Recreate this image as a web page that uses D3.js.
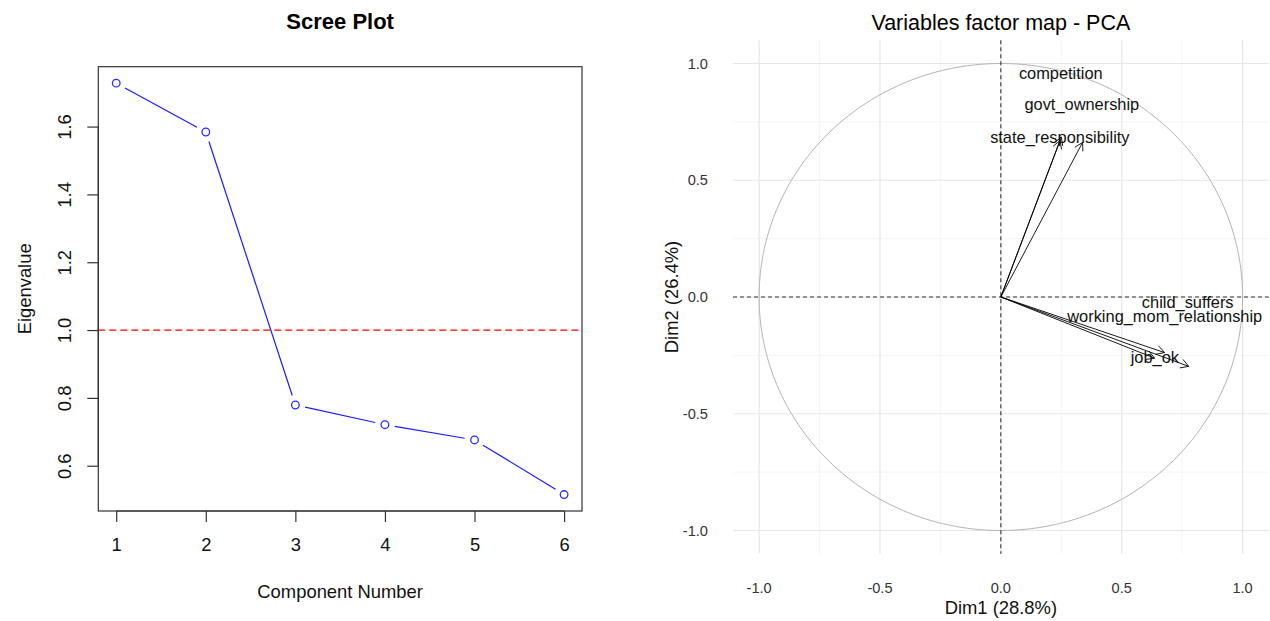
<!DOCTYPE html>
<html>
<head>
<meta charset="utf-8">
<script src="https://cdn.jsdelivr.net/npm/d3@7/dist/d3.min.js"></script>
<style>
  html, body { margin: 0; padding: 0; background: #fff; }
  svg { display: block; font-family: "Liberation Sans", Arial, sans-serif; }
</style>
</head>
<body>
<svg id="chart" width="1270" height="621"></svg>
<script>
// ---------- Scree plot data ----------
const components = [1, 2, 3, 4, 5, 6];
const eigenvalues = [1.728, 1.584, 0.779, 0.721, 0.676, 0.515];
const screeYTicks = [0.6, 0.8, 1.0, 1.2, 1.4, 1.6];
const screeXTicks = [1, 2, 3, 4, 5, 6];
const kaiserLine = 1.0;

// ---------- PCA variable map data ----------
const variables = ["competition", "govt_ownership", "state_responsibility",
                   "child_suffers", "working_mom_relationship", "job_ok"];
const dim1 = [0.250, 0.338, 0.245, 0.677, 0.777, 0.636];
const dim2 = [0.685, 0.662, 0.670, -0.238, -0.297, -0.262];
// repelled label positions (data units)
const labelDim1 = [0.248, 0.335, 0.244, 0.773, 0.678, 0.637];
const labelDim2 = [0.959, 0.827, 0.685, -0.021, -0.081, -0.257];
const pcaTicks = [-1.0, -0.5, 0.0, 0.5, 1.0];
const pcaMinorTicks = [-0.75, -0.25, 0.25, 0.75];

const svg = d3.select("#chart");

// =============== LEFT: Scree Plot ===============
(function () {
  const left = 98.3, right = 582, top = 66.7, bottom = 511;
  const xr = [d3.min(components), d3.max(components)];
  const xpad = (xr[1] - xr[0]) * 0.04;
  const x = d3.scaleLinear().domain([xr[0] - xpad, xr[1] + xpad]).range([left, right]);
  const yr = d3.extent(eigenvalues);
  const ypad = (yr[1] - yr[0]) * 0.04;
  const y = d3.scaleLinear().domain([yr[0] - ypad, yr[1] + ypad]).range([bottom, top]);

  const g = svg.append("g");

  // red dashed line
  g.append("line")
    .attr("x1", left).attr("x2", right)
    .attr("y1", y(kaiserLine)).attr("y2", y(kaiserLine))
    .attr("stroke", "#ff0000").attr("stroke-width", 1.2)
    .attr("stroke-dasharray", "7,4");

  // line segments with gaps (type = "b")
  const gap = 10;
  for (let i = 0; i < components.length - 1; i++) {
    const x1 = x(components[i]), y1 = y(eigenvalues[i]);
    const x2 = x(components[i + 1]), y2 = y(eigenvalues[i + 1]);
    const len = Math.hypot(x2 - x1, y2 - y1);
    if (len <= 2 * gap) continue;
    const ux = (x2 - x1) / len, uy = (y2 - y1) / len;
    g.append("line")
      .attr("x1", x1 + ux * gap).attr("y1", y1 + uy * gap)
      .attr("x2", x2 - ux * gap).attr("y2", y2 - uy * gap)
      .attr("stroke", "#1a1aff").attr("stroke-width", 1.2);
  }
  // points
  g.selectAll("circle.pt").data(components).enter().append("circle")
    .attr("class", "pt")
    .attr("cx", (d) => x(d))
    .attr("cy", (d, i) => y(eigenvalues[i]))
    .attr("r", 3.8)
    .attr("fill", "none").attr("stroke", "#2a2aff").attr("stroke-width", 1.3);

  // box
  g.append("rect")
    .attr("x", left).attr("y", top)
    .attr("width", right - left).attr("height", bottom - top)
    .attr("fill", "none").attr("stroke", "#333").attr("stroke-width", 1.2);

  // x axis
  const xAxis = d3.axisBottom(x).tickValues(screeXTicks).tickSize(11).tickSizeOuter(0).tickFormat(d3.format("d"));
  const gx = g.append("g").attr("transform", `translate(0,${bottom})`).call(xAxis);
  gx.select(".domain")
    .attr("d", `M${x(screeXTicks[0])},0H${x(screeXTicks[screeXTicks.length - 1])}`)
    .attr("stroke", "#333").attr("stroke-width", 1.2);
  gx.selectAll(".tick line").attr("stroke", "#333").attr("stroke-width", 1.2);
  gx.selectAll(".tick text")
    .attr("y", 34).attr("dy", "0.35em")
    .attr("font-size", "18.4px").attr("fill", "#111")
    .attr("font-family", "Liberation Sans, Arial, sans-serif");

  // y axis
  const yAxis = d3.axisLeft(y).tickValues(screeYTicks).tickSize(11).tickSizeOuter(0).tickFormat(d3.format(".1f"));
  const gy = g.append("g").attr("transform", `translate(${left},0)`).call(yAxis);
  gy.select(".domain")
    .attr("d", `M0,${y(screeYTicks[0])}V${y(screeYTicks[screeYTicks.length - 1])}`)
    .attr("stroke", "#333").attr("stroke-width", 1.2);
  gy.selectAll(".tick line").attr("stroke", "#333").attr("stroke-width", 1.2);
  gy.selectAll(".tick text")
    .attr("x", null).attr("dy", null)
    .attr("transform", `translate(${65 - left},0) rotate(-90)`)
    .attr("text-anchor", "middle").attr("dy", "0.35em")
    .attr("font-size", "18.4px").attr("fill", "#111")
    .attr("font-family", "Liberation Sans, Arial, sans-serif");

  // titles
  g.append("text")
    .attr("x", (left + right) / 2).attr("y", 21).attr("dy", "0.35em")
    .attr("text-anchor", "middle").attr("font-weight", "bold")
    .attr("font-size", "22px").attr("fill", "#000")
    .text("Scree Plot");
  g.append("text")
    .attr("x", (left + right) / 2).attr("y", 592).attr("dy", "0.35em")
    .attr("text-anchor", "middle")
    .attr("font-size", "18.4px").attr("fill", "#111")
    .text("Component Number");
  g.append("text")
    .attr("transform", `translate(25,${(top + bottom) / 2}) rotate(-90)`)
    .attr("dy", "0.35em")
    .attr("text-anchor", "middle")
    .attr("font-size", "18.4px").attr("fill", "#111")
    .text("Eigenvalue");
})();

// =============== RIGHT: Variables factor map ===============
(function () {
  const left = 733, right = 1268.7, top = 40.15, bottom = 553.85;
  const x = d3.scaleLinear().domain([-1.108, 1.108]).range([left, right]);
  const y = d3.scaleLinear().domain([-1.1, 1.1]).range([bottom, top]);
  const g = svg.append("g");

  // minor grid
  pcaMinorTicks.forEach((t) => {
    g.append("line").attr("x1", x(t)).attr("x2", x(t)).attr("y1", top).attr("y2", bottom)
      .attr("stroke", "#f2f2f2").attr("stroke-width", 0.8);
    g.append("line").attr("x1", left).attr("x2", right).attr("y1", y(t)).attr("y2", y(t))
      .attr("stroke", "#f2f2f2").attr("stroke-width", 0.8);
  });
  // major grid
  pcaTicks.forEach((t) => {
    g.append("line").attr("x1", x(t)).attr("x2", x(t)).attr("y1", top).attr("y2", bottom)
      .attr("stroke", "#e6e6e6").attr("stroke-width", 1.2);
    g.append("line").attr("x1", left).attr("x2", right).attr("y1", y(t)).attr("y2", y(t))
      .attr("stroke", "#e6e6e6").attr("stroke-width", 1.2);
  });

  // correlation circle
  const angles = d3.range(0, 361, 1).map((d) => d * Math.PI / 180);
  g.append("path")
    .attr("d", d3.line().x((a) => x(Math.cos(a))).y((a) => y(Math.sin(a)))(angles))
    .attr("fill", "none").attr("stroke", "#b3b3b3").attr("stroke-width", 1);

  // dashed axes
  g.append("line").attr("x1", x(0)).attr("x2", x(0)).attr("y1", top).attr("y2", bottom)
    .attr("stroke", "#333").attr("stroke-width", 1.1).attr("stroke-dasharray", "4,3");
  g.append("line").attr("x1", left).attr("x2", right).attr("y1", y(0)).attr("y2", y(0))
    .attr("stroke", "#333").attr("stroke-width", 1.1).attr("stroke-dasharray", "4,3");

  // arrows
  const headLen = 9, headAng = Math.PI / 6;
  variables.forEach((v, i) => {
    const x0 = x(0), y0 = y(0), x1 = x(dim1[i]), y1 = y(dim2[i]);
    const ang = Math.atan2(y1 - y0, x1 - x0);
    g.append("line").attr("x1", x0).attr("y1", y0).attr("x2", x1).attr("y2", y1)
      .attr("stroke", "#000").attr("stroke-width", 0.9);
    const p1 = [x1 - headLen * Math.cos(ang - headAng), y1 - headLen * Math.sin(ang - headAng)];
    const p2 = [x1 - headLen * Math.cos(ang + headAng), y1 - headLen * Math.sin(ang + headAng)];
    g.append("path")
      .attr("d", `M${p1[0]},${p1[1]}L${x1},${y1}L${p2[0]},${p2[1]}`)
      .attr("fill", "none").attr("stroke", "#000").attr("stroke-width", 0.9);
  });

  // labels
  g.selectAll("text.varlab").data(variables).enter().append("text")
    .attr("class", "varlab")
    .attr("x", (d, i) => x(labelDim1[i]))
    .attr("y", (d, i) => y(labelDim2[i]))
    .attr("dy", "0.35em")
    .attr("text-anchor", "middle")
    .attr("font-size", "16.4px").attr("fill", "#111")
    .text((d) => d);

  // tick labels
  const fmt = d3.format(".1f");
  g.selectAll("text.ytick").data(pcaTicks).enter().append("text")
    .attr("class", "ytick")
    .attr("x", 708).attr("y", (d) => y(d)).attr("dy", "0.35em")
    .attr("text-anchor", "end").attr("font-size", "14.6px").attr("fill", "#333")
    .text((d) => fmt(d).replace("−", "-"));
  g.selectAll("text.xtick").data(pcaTicks).enter().append("text")
    .attr("class", "xtick")
    .attr("x", (d) => x(d)).attr("y", 587.7).attr("dy", "0.35em")
    .attr("text-anchor", "middle").attr("font-size", "14.6px").attr("fill", "#333")
    .text((d) => fmt(d).replace("−", "-"));

  // titles
  g.append("text")
    .attr("x", x(0)).attr("y", 22.5).attr("dy", "0.35em")
    .attr("text-anchor", "middle").attr("font-size", "21.5px").attr("fill", "#000")
    .text("Variables factor map - PCA");
  g.append("text")
    .attr("x", x(0)).attr("y", 607.5).attr("dy", "0.35em")
    .attr("text-anchor", "middle").attr("font-size", "18.4px").attr("fill", "#111")
    .text("Dim1 (28.8%)");
  g.append("text")
    .attr("transform", `translate(672,${y(0)}) rotate(-90)`)
    .attr("dy", "0.35em")
    .attr("text-anchor", "middle").attr("font-size", "18.4px").attr("fill", "#111")
    .text("Dim2 (26.4%)");
})();
</script>
</body>
</html>
